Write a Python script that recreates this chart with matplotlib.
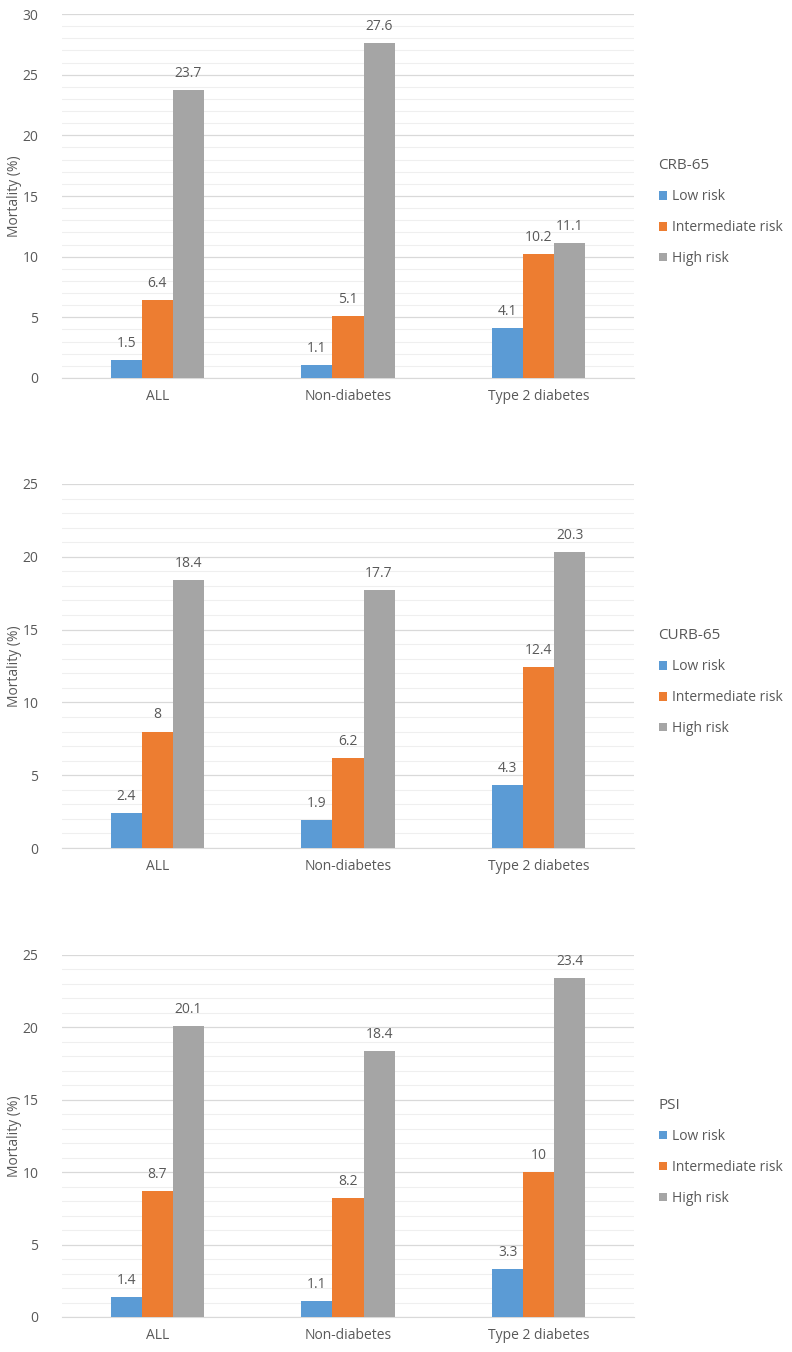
import numpy as np
import matplotlib.pyplot as plt
from matplotlib.ticker import MultipleLocator

plt.rcParams['font.family'] = ['Open Sans', 'DejaVu Sans']

groups = ['ALL', 'Non-diabetes', 'Type 2 diabetes']
risks = ['Low risk', 'Intermediate risk', 'High risk']
colors = ['#5B9BD5', '#ED7D31', '#A5A5A5']

scores = ['CRB-65', 'CURB-65', 'PSI']
crb65 = [[1.5, 1.1, 4.1], [6.4, 5.1, 10.2], [23.7, 27.6, 11.1]]
curb65 = [[2.4, 1.9, 4.3], [8, 6.2, 12.4], [18.4, 17.7, 20.3]]
psi = [[1.4, 1.1, 3.3], [8.7, 8.2, 10], [20.1, 18.4, 23.4]]
ymaxes = [30, 25, 25]

txt = '#595959'
fig = plt.figure(figsize=(7.92, 13.52), dpi=100)
boxes = [(14, 378), (484, 848), (955, 1317)]
x = np.arange(len(groups))
w = 0.163

for score, data, ymax, (top, bot) in zip(scores, [crb65, curb65, psi], ymaxes, boxes):
    ax = fig.add_axes([62 / 792, 1 - bot / 1352, (634 - 62) / 792, (bot - top) / 1352])
    for i, (vals, c) in enumerate(zip(data, colors)):
        bars = ax.bar(x + (i - 1) * w, vals, w, color=c, label=risks[i], zorder=3)
        for b, v in zip(bars, vals):
            ax.text(b.get_x() + b.get_width() / 2, v + ymax * 0.025, f'{v:g}',
                    ha='center', va='bottom', fontsize=10, color=txt)
    ax.set_xlim(-0.5, 2.5)
    ax.set_ylim(0, ymax)
    ax.yaxis.set_major_locator(MultipleLocator(5))
    ax.yaxis.set_minor_locator(MultipleLocator(1))
    ax.grid(axis='y', which='major', color='#D9D9D9', lw=0.9, zorder=0)
    ax.grid(axis='y', which='minor', color='#EFEFEF', lw=0.8, zorder=0)
    for s in ['top', 'right', 'left']:
        ax.spines[s].set_visible(False)
    ax.spines['bottom'].set_color('#D9D9D9')
    ax.set_xticks(x)
    ax.set_xticklabels(groups)
    ax.tick_params(axis='both', which='both', length=0, labelsize=10, colors=txt)
    ax.tick_params(axis='y', pad=17)
    ax.tick_params(axis='x', pad=8)
    fig.text(15 / 792, 1 - (top + bot) / 2 / 1352, 'Mortality (%)', rotation=90,
             ha='center', va='center', fontsize=10, color=txt)
    leg = ax.legend(title=score, loc='center left', bbox_to_anchor=(1.021, 0.456),
                    frameon=False, fontsize=10, title_fontsize=11, handlelength=0.6,
                    handleheight=0.6, handletextpad=0.4, labelspacing=1.15,
                    alignment='left')
    for t in leg.get_texts():
        t.set_color(txt)
    leg.get_title().set_color(txt)

fig.savefig('out.png', dpi=100)
